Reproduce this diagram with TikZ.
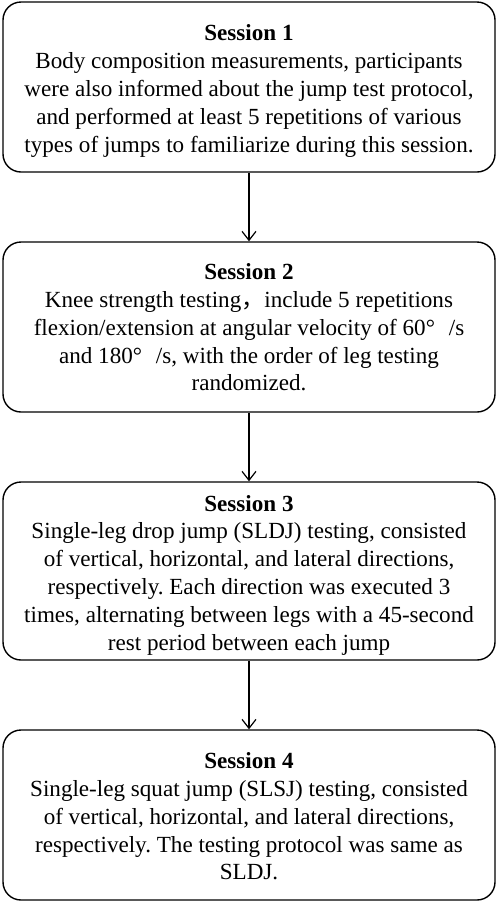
\documentclass[tikz,border=0pt]{standalone}
\usepackage{fontspec}
\setmainfont{Liberation Serif}
\newfontfamily\cjk{Noto Sans CJK SC}
\usetikzlibrary{arrows.meta}
\begin{document}
\frenchspacing
\begin{tikzpicture}[x=1pt,y=-1pt,
  sessionbox/.style={draw, line width=1.4pt, rounded corners=18pt, minimum width=492pt, inner sep=0pt},
  boxtext/.style={align=center, font=\fontsize{23.1}{27.8}\selectfont, inner sep=0pt},
  flowarrow/.style={draw, line width=1.2pt, -{Straight Barb[length=9pt,width=14pt,line width=1.2pt]}}]
\useasboundingbox (0,0) rectangle (498,903);
\node[sessionbox, minimum height=170pt] (s1) at (249,87) {};
\node[sessionbox, minimum height=170pt] (s2) at (249,327) {};
\node[sessionbox, minimum height=178pt] (s3) at (249,571) {};
\node[sessionbox, minimum height=170pt] (s4) at (249,815) {};
\node[boxtext] (t1) at ([yshift=-4pt]s1.center) {\textbf{Session 1}\\Body composition measurements, participants\\were also informed about the jump test protocol,\\and performed at least 5 repetitions of various\\types of jumps to familiarize during this session.};
\node[boxtext] (t2) at ([yshift=-0.5pt]s2.center) {\textbf{Session 2}\\Knee strength testing{\cjk ，}include 5 repetitions\\flexion/extension at angular velocity of 60°\hspace{0.6em}/s\\and 180°\hspace{0.6em}/s, with the order of leg testing\\randomized.};
\node[boxtext] (t3) at ([yshift=-4pt]s3.center) {\textbf{Session 3}\\Single-leg drop jump (SLDJ) testing, consisted\\of vertical, horizontal, and lateral directions,\\respectively. Each direction was executed 3\\times, alternating between legs with a 45-second\\rest period between each jump};
\node[boxtext] (t4) at ([yshift=-1.5pt]s4.center) {\textbf{Session 4}\\Single-leg squat jump (SLSJ) testing, consisted\\of vertical, horizontal, and lateral directions,\\respectively. The testing protocol was same as\\SLDJ.};
\draw[flowarrow] (s1.south) -- (s2.north);
\draw[flowarrow] (s2.south) -- (s3.north);
\draw[flowarrow] (s3.south) -- (s4.north);
\end{tikzpicture}
\end{document}
